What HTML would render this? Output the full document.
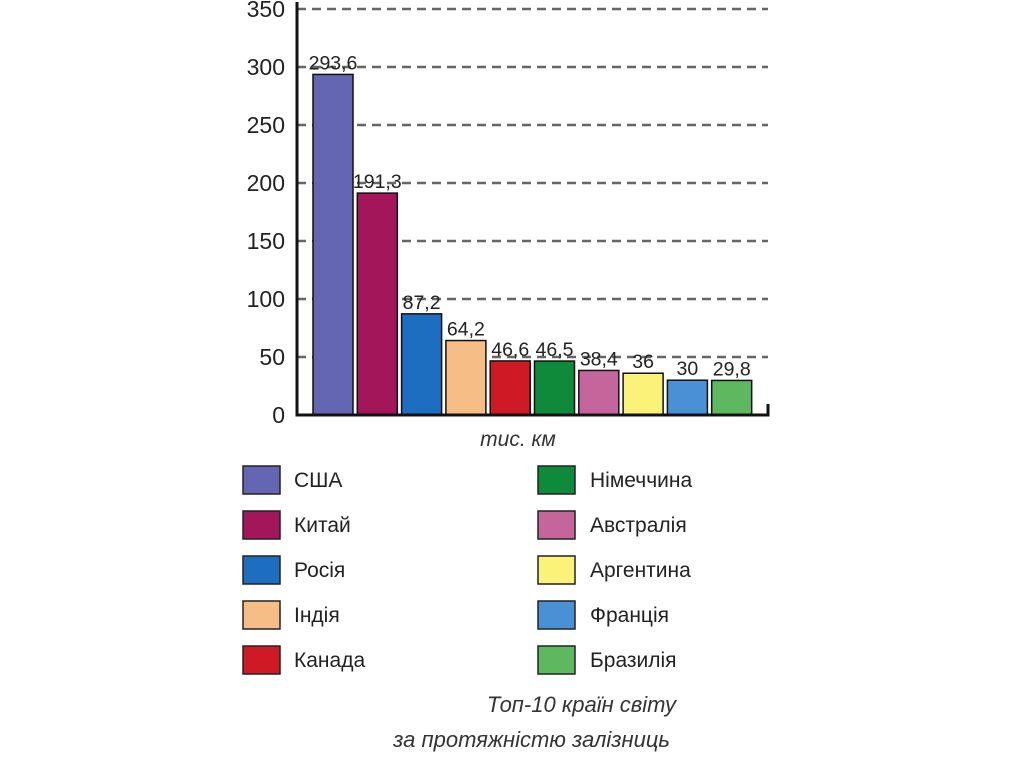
<!DOCTYPE html>
<html><head><meta charset="utf-8"><style>
body{margin:0;background:#fff;width:1024px;height:767px;overflow:hidden}
svg{display:block;font-family:"Liberation Sans","DejaVu Sans",sans-serif}
</style></head><body>
<svg id="chart" width="1024" height="767">
</svg>
<script>
const categories=["США","Китай","Росія","Індія","Канада","Німеччина","Австралія","Аргентина","Франція","Бразилія"];
const values=[293.6,191.3,87.2,64.2,46.6,46.5,38.4,36,30,29.8];
const valueLabels=["293,6","191,3","87,2","64,2","46,6","46,5","38,4","36","30","29,8"];
const yTicks=[0,50,100,150,200,250,300,350];
const colors=["#6466b4","#a3165a","#1d6dc0","#f7bd86","#cf1a26","#0f8a3b","#c4659b","#fbf27a","#4a90d4","#5db860"];
const NS="http://www.w3.org/2000/svg";
const svg=document.getElementById('chart');
const x0=297,y0=415,pxPer=406/350,barStart=313,step=44.3,barW=40;
const yScale=v=>y0-v*pxPer;
const xScale=i=>barStart+i*step;
function mk(t,a,txt){const e=document.createElementNS(NS,t);for(const k in a)e.setAttribute(k,a[k]);if(txt!==undefined)e.textContent=txt;svg.appendChild(e);return e;}
yTicks.forEach(t=>{
  const y=yScale(t);
  if(t>0){const g=mk('line',{x1:x0,x2:768,y1:y,y2:y,stroke:'#666','stroke-width':2.5,'stroke-dasharray':'9 6'});
  
  }
  const l=mk('text',{x:285,y:y+8,'text-anchor':'end','font-size':23,fill:'#222'},t);
  
  
});
values.forEach((v,i)=>{
  const x=xScale(i),y=yScale(v);
  const r=mk('rect',{x:x,y:y,width:barW,height:y0-y,fill:colors[i],stroke:'#111','stroke-width':1.5});
  
  
  const t=mk('text',{x:x+barW/2,y:y-5,'text-anchor':'middle','font-size':19.5,fill:'#222'},valueLabels[i]);
  
  
});
const ax=mk('path',{d:`M${x0} 2 V${y0} H768 V404`,fill:'none',stroke:'#111','stroke-width':3});


const un=mk('text',{x:518,y:446,'text-anchor':'middle','font-size':21,'font-style':'italic',fill:'#333'},'тис. км');


categories.forEach((c,i)=>{
  const col=i<5?0:1,row=i%5;
  const sx=col?538:243,cy=480+row*45;
  const s=mk('rect',{x:sx,y:cy-14,width:37,height:28,fill:colors[i],stroke:'#222','stroke-width':1.5});
  
  
  const t=mk('text',{x:col?590:294,y:cy+7,'font-size':21,fill:'#222'},c);
  
  
});
const c1=mk('text',{x:676,y:712,'text-anchor':'end','font-size':22,'font-style':'italic',fill:'#333'},'Топ-10 країн світу');


const c2=mk('text',{x:670,y:747,'text-anchor':'end','font-size':22,'font-style':'italic',fill:'#333'},'за протяжністю залізниць');


</script>
</body></html>
